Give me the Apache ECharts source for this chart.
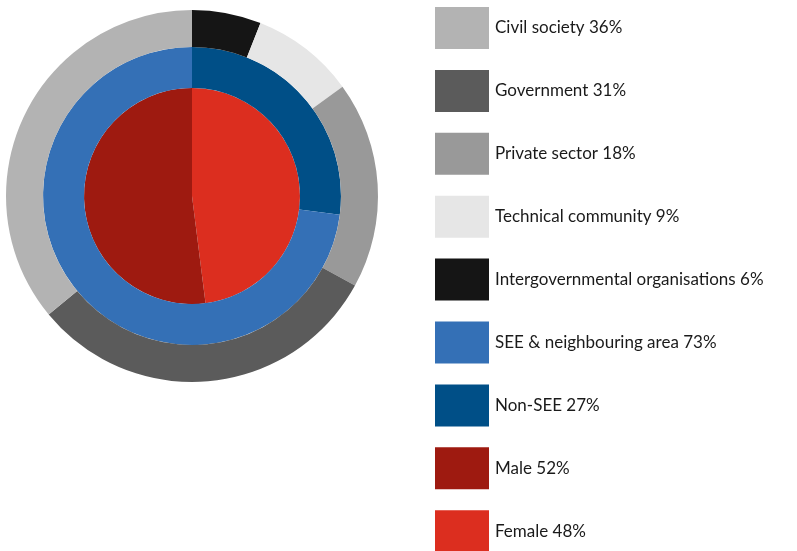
<!DOCTYPE html>
<html>
<head>
<meta charset="utf-8">
<script src="https://cdn.jsdelivr.net/npm/echarts@6/dist/echarts.min.js"></script>
<style>
  html, body { margin: 0; padding: 0; background: #fff; }
  #chart { width: 797px; height: 551px; }
</style>
</head>
<body>
<div id="chart"></div>
<script>
// outer ring: stakeholder groups (clockwise from 12 o'clock)
const stakeNames = ['Intergovernmental organisations', 'Technical community', 'Private sector', 'Government', 'Civil society']
const stakeValues = [6, 9, 18, 31, 36]
const stakeColors = ['#151515', '#e6e6e6', '#999999', '#5b5b5b', '#b3b3b3']

// middle ring: region
const regionNames = ['Non-SEE', 'SEE & neighbouring area']
const regionValues = [27, 73]
const regionColors = ['#004f87', '#3470b6']

// inner pie: gender
const genderNames = ['Female', 'Male']
const genderValues = [48, 52]
const genderColors = ['#dc2e1f', '#9e1a10']

// legend order as in the picture
const legendOrder = ['Civil society', 'Government', 'Private sector', 'Technical community',
  'Intergovernmental organisations', 'SEE & neighbouring area', 'Non-SEE', 'Male', 'Female']

const valueOf = {}
stakeNames.forEach((n, i) => { valueOf[n] = stakeValues[i] })
regionNames.forEach((n, i) => { valueOf[n] = regionValues[i] })
genderNames.forEach((n, i) => { valueOf[n] = genderValues[i] })

function toData (names, values, colors) {
  return names.map((n, i) => ({ name: n, value: values[i], itemStyle: { color: colors[i] } }))
}

const center = [192, 196]
const common = {
  type: 'pie',
  center: center,
  startAngle: 90,
  clockwise: true,
  label: { show: false },
  labelLine: { show: false },
  emphasis: { disabled: true },
  silent: true,
  animation: false
}

let myChart = echarts.init(document.getElementById('chart'))
myChart.setOption({
  animation: false,
  legend: {
    orient: 'vertical',
    left: 435,
    top: 7,
    height: 700,
    padding: 0,
    itemWidth: 54,
    itemHeight: 42,
    itemGap: 20.9,
    icon: 'rect',
    selectedMode: false,
    data: legendOrder,
    formatter: name => name + ' ' + valueOf[name] + '%',
    textStyle: {
      fontFamily: 'Lato',
      fontSize: 17,
      color: '#1a1a1a',
      padding: [2, 0, 0, 1]
    }
  },
  series: [
    Object.assign({}, common, {
      name: 'gender',
      radius: [0, 108],
      data: toData(genderNames, genderValues, genderColors)
    }),
    Object.assign({}, common, {
      name: 'region',
      radius: [108, 149],
      data: toData(regionNames, regionValues, regionColors)
    }),
    Object.assign({}, common, {
      name: 'stakeholder',
      radius: [149, 186],
      data: toData(stakeNames, stakeValues, stakeColors)
    })
  ]
})
</script>
</body>
</html>
